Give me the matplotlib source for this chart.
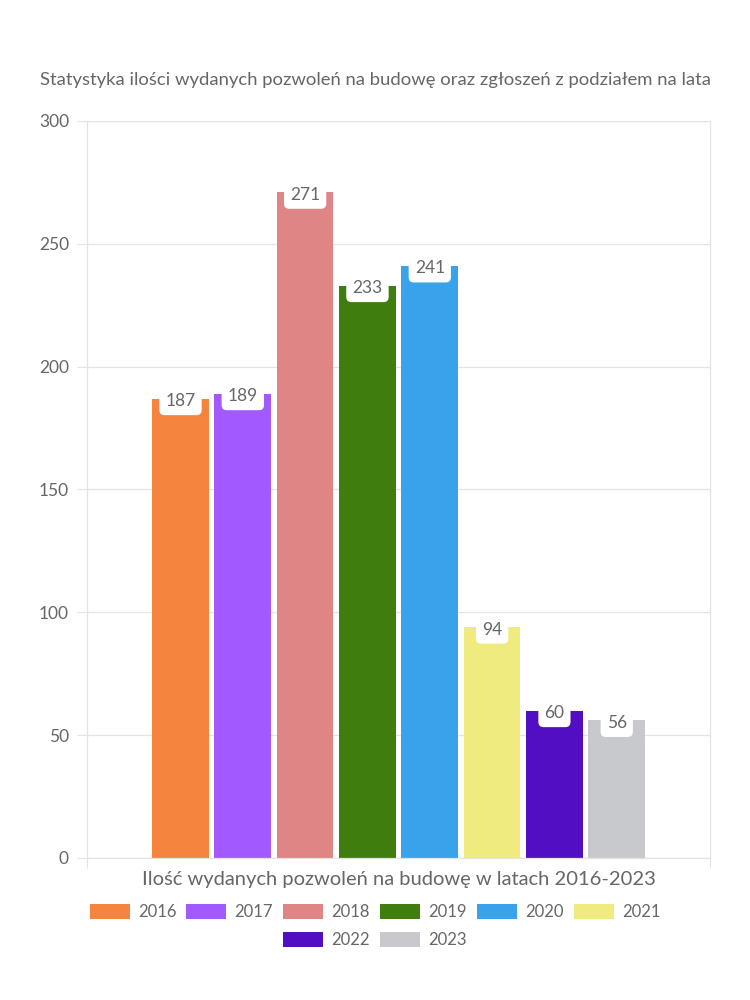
#!/usr/bin/env python3

import matplotlib.pyplot as plt
from matplotlib.patches import Patch

# Data
years = ['2016', '2017', '2018', '2019', '2020', '2021', '2022', '2023']
permits = [187, 189, 271, 233, 241, 94, 60, 56]
colors = ['#F5843F', '#A259FF', '#E08585', '#3F7D0E', '#38A3EA',
          '#F0EB7E', '#520EC2', '#C8C9CD']
y_ticks = [0, 50, 100, 150, 200, 250, 300]

title = 'Statystyka ilości wydanych pozwoleń na budowę oraz zgłoszeń z podziałem na lata'
xlabel = 'Ilość wydanych pozwoleń na budowę w latach 2016-2023'

TEXT = '#666666'
GRID = '#E3E3E3'

plt.rcParams['font.family'] = ['Lato', 'DejaVu Sans']

fig = plt.figure(figsize=(7.5, 10), dpi=100)
ax = fig.add_axes([0.116, 0.142, 0.831, 0.737])

step = 0.1
width = 0.091
for i, (year, val, col) in enumerate(zip(years, permits, colors)):
    x = (i - 3.5) * step
    ax.bar(x, val, width=width, color=col, zorder=2)
    ax.text(x, val - 1, str(val), ha='center', va='center', fontsize=12.5,
            color=TEXT, zorder=3,
            bbox=dict(boxstyle='round,pad=0.35,rounding_size=0.3',
                      facecolor='white', edgecolor='none'))

ax.set_xlim(-0.5, 0.5)
ax.set_ylim(0, 300)
ax.set_yticks(y_ticks)
ax.set_yticklabels([str(t) for t in y_ticks], fontsize=12.5, color=TEXT)
ax.set_xticks([-0.5, 0.5])
ax.set_xticklabels(['', ''])
ax.tick_params(axis='both', length=7, color=GRID, pad=6)
ax.grid(axis='y', color=GRID, linewidth=0.9, zorder=0)
for side in ['left', 'right', 'top', 'bottom']:
    ax.spines[side].set_color(GRID)
    ax.spines[side].set_linewidth(0.9)
ax.spines['top'].set_visible(False)

ax.set_xlabel(xlabel, fontsize=14.5, color=TEXT, labelpad=-4)
fig.text(0.5, 0.92, title, ha='center', va='center', fontsize=13.3, color=TEXT)

# legend in two rows, centred
handles = [Patch(facecolor=c, edgecolor='none') for c in colors]
leg_kw = dict(frameon=False, fontsize=12, handlelength=2.4, handleheight=1.0,
              handletextpad=0.5, columnspacing=0.6, labelcolor=TEXT)
fig.legend(handles[:6], years[:6], ncol=6, loc='center',
           bbox_to_anchor=(0.5, 0.088), **leg_kw)
fig.legend(handles[6:], years[6:], ncol=2, loc='center',
           bbox_to_anchor=(0.5, 0.060), **leg_kw)

fig.savefig('out.png', dpi=100, facecolor='white')
